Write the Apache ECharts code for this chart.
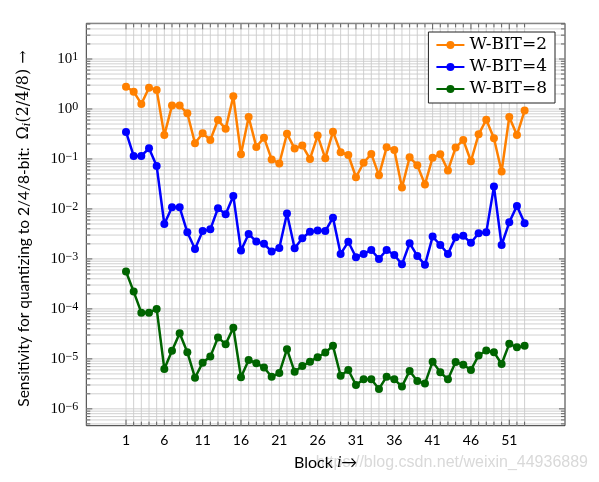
<!DOCTYPE html>
<html>
<head>
<meta charset="utf-8">
<script src="https://cdn.jsdelivr.net/npm/echarts@6/dist/echarts.min.js"></script>
<style>
html,body{margin:0;padding:0;background:#fff;}
#chart{width:599px;height:482px;}
</style>
</head>
<body>
<div id="chart"></div>
<script>
const blocks = [1,2,3,4,5,6,7,8,9,10,11,12,13,14,15,16,17,18,19,20,21,22,23,24,25,26,27,28,29,30,31,32,33,34,35,36,37,38,39,40,41,42,43,44,45,46,47,48,49,50,51,52,53];
const wbit2 = [2.79,2.22,1.26,2.67,2.4,0.30,1.17,1.17,0.82,0.206,0.326,0.24,0.60,0.40,1.79,0.124,0.69,0.174,0.267,0.098,0.081,0.32,0.161,0.185,0.10,0.293,0.103,0.352,0.136,0.12,0.043,0.084,0.126,0.047,0.171,0.151,0.0267,0.108,0.075,0.031,0.106,0.124,0.059,0.169,0.24,0.090,0.311,0.61,0.259,0.056,0.69,0.30,0.93];
const wbit4 = [0.347,0.115,0.115,0.163,0.072,0.0050,0.0108,0.0108,0.0034,0.00158,0.00363,0.0039,0.0103,0.0078,0.0182,0.00147,0.00316,0.00222,0.0020,0.0014,0.00166,0.0081,0.00163,0.0026,0.0035,0.0037,0.0036,0.0067,0.00126,0.0022,0.00108,0.00126,0.00151,0.0010,0.00151,0.0012,0.00078,0.00206,0.00115,0.00076,0.0028,0.0019,0.00126,0.0027,0.0029,0.0021,0.00326,0.0034,0.028,0.0019,0.0054,0.0115,0.0052];
const wbit8 = [0.00056,0.000222,8.4e-5,8.4e-5,1.0e-4,6.3e-6,1.45e-5,3.26e-5,1.36e-5,4.2e-6,8.4e-6,1.11e-5,2.67e-5,1.97e-5,4.2e-5,4.3e-6,9.5e-6,8.2e-6,6.7e-6,4.4e-6,5.2e-6,1.56e-5,5.5e-6,7.2e-6,8.8e-6,1.08e-5,1.34e-5,1.82e-5,4.6e-6,6.0e-6,3.0e-6,3.9e-6,3.9e-6,2.5e-6,4.4e-6,3.9e-6,2.8e-6,5.75e-6,3.6e-6,3.2e-6,8.8e-6,5.4e-6,3.9e-6,8.7e-6,7.6e-6,6.0e-6,1.17e-5,1.47e-5,1.36e-5,7.9e-6,2.0e-5,1.71e-5,1.82e-5];
const seriesNames = ['W-BIT=2','W-BIT=4','W-BIT=8'];
const seriesColors = ['#ff8000','#0000ff','#006400'];
const xTickLabels = [1,6,11,16,21,26,31,36,41,46,51];
const yTickLabels = [1e-6,1e-5,1e-4,1e-3,1e-2,1e-1,1,10];

const X_MIN = -4.18, X_MAX = 58.27;
const Y_MIN = 4.6e-7, Y_MAX = 51.8;

// grid / tick helper items: [x, y, kind]  kind 0 = minor h, 2 = major h, 1 = minor v, 3 = major v
const gridItems = [];
for (let e = -7; e <= 1; e++) {
  for (let k = 1; k <= 9; k++) {
    const v = k * Math.pow(10, e);
    if (v >= Y_MIN && v <= Y_MAX) gridItems.push([1, v, k === 1 ? 2 : 0]);
  }
}
blocks.forEach(b => gridItems.push([b, 1, xTickLabels.indexOf(b) >= 0 ? 3 : 1]));

const chart = echarts.init(document.getElementById('chart'), null, {renderer: 'canvas'});

function supLabel(v) {
  const l = Math.log10(v);
  const e = Math.round(l);
  if (Math.abs(l - e) > 1e-6) return '';
  if (!yTickLabels.some(t => Math.abs(Math.log10(t) - e) < 1e-9)) return '';
  return '{b|10}{s|' + (e < 0 ? '\u2212' + (-e) : String(e)) + '}';
}

const lineSeries = [wbit2, wbit4, wbit8].map((vals, i) => ({
  name: seriesNames[i],
  type: 'line',
  data: blocks.map((b, j) => [b, vals[j]]),
  symbol: 'circle',
  symbolSize: 8,
  showSymbol: true,
  lineStyle: {width: 2.5, color: seriesColors[i]},
  itemStyle: {color: seriesColors[i]},
  z: 3
}));

const gridSeries = {
  type: 'custom',
  silent: true,
  z: 1,
  data: gridItems,
  encode: {x: 0, y: 1},
  clip: false,
  renderItem: function (params, api) {
    const cs = params.coordSys;
    const kind = api.value(2);
    const p = api.coord([api.value(0), api.value(1)]);
    const gridStyle = {stroke: '#cbcbcb', lineWidth: 0.9};
    const tickStyle = {stroke: '#555', lineWidth: 0.9};
    const len = (kind >= 2) ? 6 : 4;
    if (kind === 0 || kind === 2) {
      const y = p[1];
      return {type: 'group', children: [
        {type: 'line', shape: {x1: cs.x, y1: y, x2: cs.x + cs.width, y2: y}, style: gridStyle},
        {type: 'line', shape: {x1: cs.x, y1: y, x2: cs.x + len, y2: y}, style: tickStyle},
        {type: 'line', shape: {x1: cs.x + cs.width - len, y1: y, x2: cs.x + cs.width, y2: y}, style: tickStyle}
      ]};
    } else {
      const x = p[0];
      return {type: 'group', children: [
        {type: 'line', shape: {x1: x, y1: cs.y, x2: x, y2: cs.y + cs.height}, style: gridStyle},
        {type: 'line', shape: {x1: x, y1: cs.y, x2: x, y2: cs.y + len}, style: tickStyle},
        {type: 'line', shape: {x1: x, y1: cs.y + cs.height - len, x2: x, y2: cs.y + cs.height}, style: tickStyle}
      ]};
    }
  }
};

chart.setOption({
  animation: false,
  backgroundColor: '#fff',
  grid: {left: 86.3, right: 34, top: 23.3, bottom: 56.3, show: true, borderColor: '#333', borderWidth: 1, backgroundColor: 'transparent'},
  xAxis: {
    type: 'value', min: X_MIN, max: X_MAX,
    axisLine: {show: false}, axisTick: {show: false}, splitLine: {show: false},
    axisLabel: {customValues: xTickLabels, fontFamily: 'Lato', fontSize: 14, color: '#000', margin: 8},
    name: 'Block {i|i}\u2192',
    nameLocation: 'middle', nameGap: 29,
    nameTextStyle: {fontFamily: 'Lato', fontSize: 16, color: '#000',
      rich: {i: {fontFamily: 'Liberation Serif', fontStyle: 'italic', fontSize: 16, color: '#000'}}}
  },
  yAxis: {
    type: 'log', logBase: 10, min: Y_MIN, max: Y_MAX,
    axisLine: {show: false}, axisTick: {show: false}, splitLine: {show: false}, minorSplitLine: {show: false},
    axisLabel: {
      margin: 8, formatter: supLabel, showMinLabel: true, showMaxLabel: true,
      rich: {
        b: {fontFamily: 'Liberation Serif', fontSize: 15, lineHeight: 16, color: '#000'},
        s: {fontFamily: 'Liberation Serif', fontSize: 12, lineHeight: 12, verticalAlign: 'top', color: '#000'}
      }
    },
    name: '{a|Sensitivity for quantizing to 2/4/8-bit:  }{m|\u03A9}{i|i}{m|(2/4/8) \u2192}{gap|}',
    nameLocation: 'middle', nameRotate: 90, nameGap: 54,
    nameTextStyle: {
      rich: {
        a: {fontFamily: 'Lato', fontSize: 15.5, color: '#000'},
        m: {fontFamily: 'DejaVu Serif', fontSize: 16, color: '#000'},
        i: {fontFamily: 'DejaVu Serif', fontStyle: 'italic', fontSize: 11, color: '#000', verticalAlign: 'bottom'},
        gap: {width: 8}
      }
    }
  },
  legend: {
    data: seriesNames,
    orient: 'vertical', right: 44, top: 32,
    backgroundColor: '#fff', borderColor: '#222', borderWidth: 1, borderRadius: 0,
    padding: [3, 8, 4, 7], itemGap: 2, itemWidth: 28, itemHeight: 10,
    textStyle: {fontFamily: 'DejaVu Serif', fontSize: 17, color: '#000', lineHeight: 20}
  },
  graphic: [{
    type: 'text', right: 11, top: 455, z: -1, silent: true,
    style: {text: 'https://blog.csdn.net/weixin_44936889', font: '16px "Liberation Sans"', fill: '#d9d9d9'}
  }],
  series: [gridSeries].concat(lineSeries)
});
</script>
</body>
</html>
